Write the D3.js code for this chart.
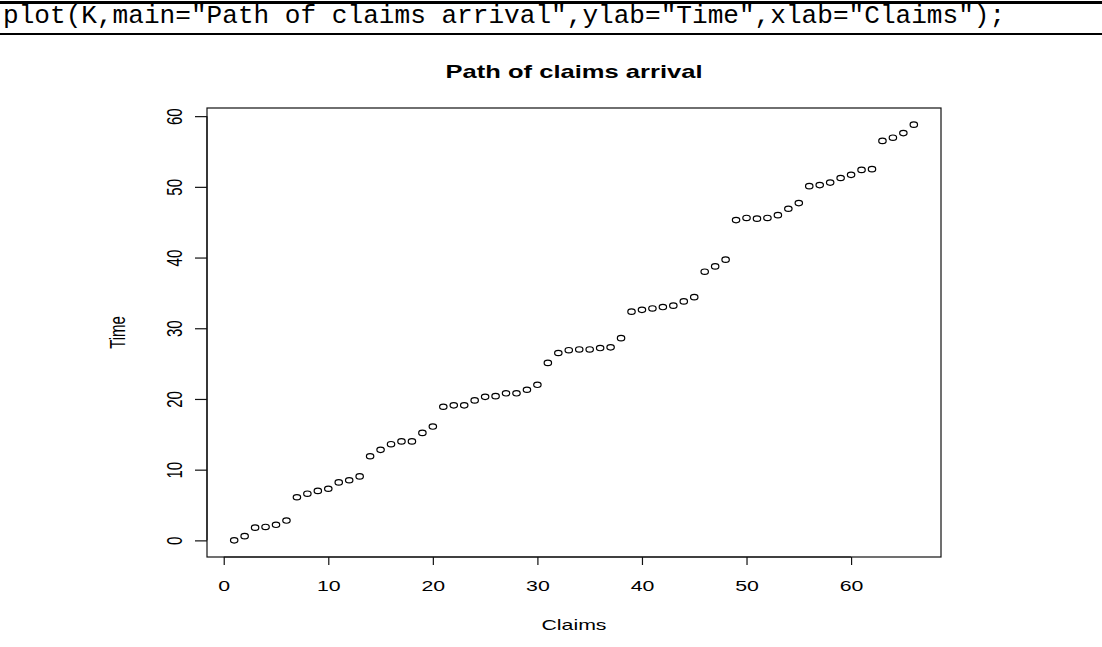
<!DOCTYPE html>
<meta charset="utf-8">
<style>
body { margin: 0; background: #fff; }
text { fill: #000; }
.code { font-family: "Liberation Mono", "Courier New", monospace; font-size: 26.1px; }
.lab { font-family: "Liberation Sans", Arial, sans-serif; }
</style>
<body>
<script src="https://d3js.org/d3.v7.min.js"></script>
<script>

// claim number (index) and arrival time
var claims = d3.range(1, 67);
var times = [0, 0.6, 1.8, 1.9, 2.2, 2.8, 6.1, 6.6, 7.0, 7.3,
             8.2, 8.5, 9.05, 11.9, 12.8, 13.6, 14.0, 14.0, 15.2, 16.1,
             18.9, 19.1, 19.1, 19.8, 20.3, 20.4, 20.8, 20.8, 21.3, 22.0,
             25.1, 26.5, 26.9, 27.0, 27.0, 27.2, 27.3, 28.6, 32.35, 32.6,
             32.8, 33.0, 33.2, 33.8, 34.4, 38.0, 38.75, 39.7, 45.3, 45.6,
             45.5, 45.6, 46.0, 46.9, 47.7, 50.1, 50.25, 50.6, 51.25, 51.7,
             52.4, 52.5, 56.5, 56.95, 57.6, 58.8];
var xTicks = [0, 10, 20, 30, 40, 50, 60];
var yTicks = [0, 10, 20, 30, 40, 50, 60];

var W = 1102, H = 647;
var box = {left: 207, right: 941, top: 108, bottom: 557};
var sx = 1.42; // the source image is stretched horizontally

var svg = d3.select("body").append("svg")
    .attr("width", W)
    .attr("height", H);

// code line with rules
svg.append("rect").attr("x", 0).attr("y", 1).attr("width", W).attr("height", 3).attr("fill", "#000");
svg.append("rect").attr("x", 0).attr("y", 33).attr("width", W).attr("height", 2).attr("fill", "#000");
svg.append("text").attr("class", "code")
    .attr("x", 3).attr("y", 23)
    .text('plot(K,main="Path of claims arrival",ylab="Time",xlab="Claims");');

// R style extended ranges (4%)
var xr = d3.extent(claims), yr = d3.extent(times);
var xp = (xr[1] - xr[0]) * 0.04, yp = (yr[1] - yr[0]) * 0.04;
var x = d3.scaleLinear().domain([xr[0] - xp, xr[1] + xp]).range([box.left, box.right]);
var y = d3.scaleLinear().domain([yr[0] - yp, yr[1] + yp]).range([box.bottom, box.top]);

// box
svg.append("rect")
    .attr("x", box.left).attr("y", box.top)
    .attr("width", box.right - box.left).attr("height", box.bottom - box.top)
    .attr("fill", "none").attr("stroke", "#111").attr("stroke-width", 1.2);

// x axis
var xAxis = svg.append("g").attr("transform", "translate(0," + box.bottom + ")")
    .call(d3.axisBottom(x).tickValues(xTicks).tickSize(8).tickFormat(d3.format("d")));
xAxis.select(".domain")
    .attr("d", "M" + x(xTicks[0]) + ",0H" + x(xTicks[xTicks.length - 1]))
    .attr("stroke", "#111").attr("stroke-width", 1.2);
xAxis.selectAll(".tick line").attr("stroke", "#111").attr("stroke-width", 1.2);
xAxis.selectAll(".tick text").remove();
xAxis.selectAll(".tick").append("text")
    .attr("class", "lab")
    .attr("transform", "translate(0,34) scale(" + sx + ",1)")
    .attr("text-anchor", "middle")
    .style("font-size", "15px")
    .text(function(d) { return d; });

// y axis
var yAxis = svg.append("g").attr("transform", "translate(" + box.left + ",0)")
    .call(d3.axisLeft(y).tickValues(yTicks).tickSize(12).tickFormat(d3.format("d")));
yAxis.select(".domain")
    .attr("d", "M0," + y(yTicks[0]) + "V" + y(yTicks[yTicks.length - 1]))
    .attr("stroke", "#111").attr("stroke-width", 1.2);
yAxis.selectAll(".tick line").attr("stroke", "#111").attr("stroke-width", 1.2);
yAxis.selectAll(".tick text").remove();
yAxis.selectAll(".tick").append("text")
    .attr("class", "lab")
    .attr("transform", "translate(-32,0) scale(" + sx + ",1) rotate(-90)")
    .attr("text-anchor", "middle")
    .attr("dy", "0.35em")
    .style("font-size", "15px")
    .text(function(d) { return d; });

// points (open circles, squashed like the source)
svg.append("g").selectAll("ellipse")
    .data(claims)
  .enter().append("ellipse")
    .attr("cx", function(d) { return x(d); })
    .attr("cy", function(d, i) { return y(times[i]); })
    .attr("rx", 3.7)
    .attr("ry", 2.7)
    .attr("fill", "none")
    .attr("stroke", "#000")
    .attr("stroke-width", 1.2);

// titles
svg.append("text").attr("class", "lab")
    .attr("transform", "translate(" + ((box.left + box.right) / 2) + ",78) scale(" + sx + ",1)")
    .attr("text-anchor", "middle")
    .style("font-size", "18px").style("font-weight", "bold")
    .text("Path of claims arrival");

svg.append("text").attr("class", "lab")
    .attr("transform", "translate(" + ((box.left + box.right) / 2) + ",630) scale(" + sx + ",1)")
    .attr("text-anchor", "middle")
    .style("font-size", "15px")
    .text("Claims");

svg.append("text").attr("class", "lab")
    .attr("transform", "translate(125," + ((box.top + box.bottom) / 2) + ") scale(" + sx + ",1) rotate(-90)")
    .attr("text-anchor", "middle")
    .style("font-size", "15px")
    .text("Time");

</script>
</body>
